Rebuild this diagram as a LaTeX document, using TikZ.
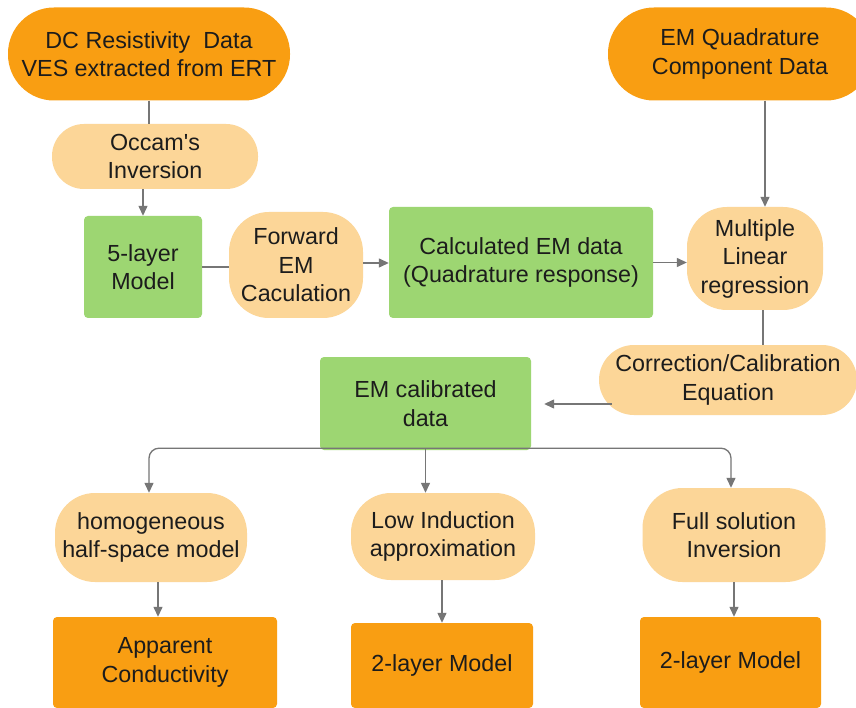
\documentclass[tikz,border=0pt]{standalone}
\usepackage{fontspec}
\setmainfont{Liberation Sans}
\usetikzlibrary{arrows.meta}
\definecolor{dorange}{RGB}{249,158,18}
\definecolor{lorange}{RGB}{252,214,152}
\definecolor{lgreen}{RGB}{157,214,114}
\definecolor{lineg}{RGB}{118,118,118}
\definecolor{txt}{RGB}{28,28,28}
\tikzset{
  base/.style={inner sep=0pt, align=center, text=txt, font=\fontsize{23.3}{28.5}\selectfont},
  dstad/.style={base, fill=dorange, rounded corners=46pt},
  lround/.style={base, fill=lorange, rounded corners=40pt},
  gbox/.style={base, fill=lgreen, rounded corners=4pt},
  obox/.style={base, fill=dorange, rounded corners=4pt},
  conn/.style={draw=lineg, line width=1.3pt},
  arr/.style={conn, -{Triangle[length=10pt,width=9pt]}},
}
\begin{document}
\begin{tikzpicture}[x=1pt,y=-1pt]
\useasboundingbox (0,0) rectangle (856,708);
\clip (0,0) rectangle (856,708);
\fill[white] (0,0) rectangle (856,708);
% nodes
\node[dstad, minimum width=282pt, minimum height=93pt] (dc) at (149,54) {DC Resistivity\ \ Data\\VES extracted from ERT};
\node[lround, rounded corners=32pt, minimum width=206pt, minimum height=65pt] (occam) at (155,156.5) {Occam\textquotesingle s\\Inversion};
\node[gbox, minimum width=118pt, minimum height=102pt] (five) at (143,267) {5-layer\\Model};
\node[lround, minimum width=134pt, minimum height=106pt] (fwd) at (296,265) {Forward\\EM\\Caculation};
\node[gbox, minimum width=264pt, minimum height=111pt] (calc) at (521,262.5) {Calculated EM data\\(Quadrature response)};
\node[lround, minimum width=136pt, minimum height=103pt] (mlr) at (755,258.5) {Multiple\\Linear\\regression};
\node[dstad, minimum width=264pt, minimum height=93pt] (emq) at (740,54) {EM Quadrature\\Component Data};
\node[lround, rounded corners=35pt, minimum width=258pt, minimum height=70pt] (corr) at (728,380) {Correction/Calibration\\Equation};
\node[gbox, minimum width=211pt, minimum height=93pt] (emcal) at (425.5,403.5) {EM calibrated\\data};
\node[lround, minimum width=192pt, minimum height=89pt] (homog) at (151,537.5) {homogeneous\\half-space model};
\node[lround, minimum width=184pt, minimum height=87pt] (low) at (443,536.5) {Low Induction\\approximation};
\node[lround, minimum width=183pt, minimum height=94pt] (full) at (734,535) {Full solution\\Inversion};
\node[obox, minimum width=224pt, minimum height=91pt] (app) at (165,662.5) {Apparent\\Conductivity};
\node[obox, minimum width=182pt, minimum height=85pt] (twoa) at (442,665.5) {2-layer Model};
\node[obox, minimum width=181pt, minimum height=91pt] (twob) at (730.5,662.5) {2-layer Model};
% connectors
\draw[conn] (dc.south) -- (dc.south |- occam.north);
\draw[arr] (five.north |- occam.south) -- (five.north);
\draw[conn] (five.east) -- (five.east -| fwd.west);
\draw[arr] ([yshift=2pt]fwd.east) -- ([yshift=2pt]fwd.east -| calc.west);
\draw[arr] (calc.east) -- (calc.east -| mlr.west);
\draw[arr] ([xshift=10pt]mlr.north |- emq.south) -- ([xshift=10pt]mlr.north);
\draw[conn] ([xshift=8pt]mlr.south) -- ([xshift=8pt]mlr.south |- corr.north);
\draw[arr] ([xshift=13pt,yshift=-24pt]corr.west) -- ([xshift=13pt,yshift=-24pt]corr.west -| emcal.east);
\coordinate (br) at ([yshift=2pt]emcal.south);
\draw[arr, rounded corners=10pt] (br) -| ([xshift=-2pt]homog.north);
\draw[arr] (br) -- (br |- low.north);
\draw[arr, rounded corners=10pt] (br) -| ([xshift=-3pt]full.north);
\draw[arr] ([xshift=7pt]homog.south) -- ([xshift=7pt]homog.south |- app.north);
\draw[arr] ([xshift=-1pt]low.south) -- ([xshift=-1pt]low.south |- twoa.north);
\draw[arr] (full.south) -- (full.south |- twob.north);
\end{tikzpicture}
\end{document}
